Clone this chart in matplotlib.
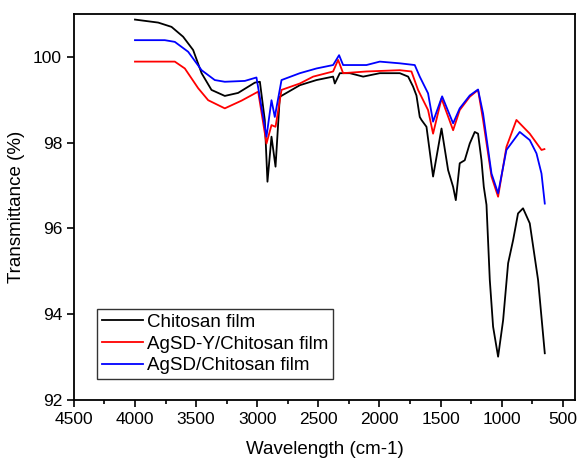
import matplotlib
matplotlib.use("Agg")
from matplotlib import pyplot as plt
from matplotlib.ticker import MultipleLocator

plt.rcParams['font.family'] = ['Liberation Sans', 'DejaVu Sans']

# Chitosan film
chitosan_x = [4000, 3810, 3701, 3606, 3524, 3455, 3374, 3265, 3156, 3019, 2978,
              2938, 2916, 2883, 2850, 2815, 2651, 2515, 2379, 2365, 2324, 2242,
              2133, 1997, 1833, 1765, 1725, 1697, 1670, 1656, 1615, 1561, 1492,
              1438, 1397, 1375, 1343, 1302, 1261, 1220, 1193, 1165, 1146, 1124,
              1097, 1070, 1029, 988, 947, 906, 866, 825, 770, 702, 647]
chitosan_y = [100.87, 100.80, 100.70, 100.47, 100.16, 99.62, 99.23, 99.09, 99.16,
              99.40, 99.42, 98.53, 97.09, 98.14, 97.44, 99.07, 99.34, 99.46, 99.54,
              99.38, 99.62, 99.62, 99.54, 99.62, 99.62, 99.54, 99.31, 99.10, 98.60,
              98.53, 98.37, 97.21, 98.33, 97.36, 96.97, 96.66, 97.52, 97.59, 97.98,
              98.25, 98.21, 97.59, 96.97, 96.55, 94.80, 93.71, 93.01, 93.86, 95.19,
              95.73, 96.35, 96.47, 96.12, 94.80, 93.09]

# AgSD-Y/Chitosan film
agsdy_x = [4000, 3674, 3592, 3483, 3401, 3265, 3128, 2992, 2924, 2883, 2850,
           2801, 2651, 2542, 2379, 2338, 2297, 2106, 1833, 1738, 1684, 1670,
           1602, 1561, 1492, 1397, 1343, 1261, 1193, 1152, 1083, 1029, 961,
           879, 770, 674, 650]
agsdy_y = [99.89, 99.89, 99.73, 99.27, 98.99, 98.80, 98.98, 99.19, 97.98, 98.41,
           98.37, 99.23, 99.38, 99.54, 99.66, 99.93, 99.62, 99.66, 99.69, 99.66,
           99.23, 99.15, 98.76, 98.21, 99.03, 98.29, 98.76, 99.07, 99.23, 98.53,
           97.21, 96.74, 97.90, 98.53, 98.21, 97.83, 97.85]

# AgSD/Chitosan film
agsd_x = [4000, 3756, 3674, 3565, 3455, 3347, 3265, 3101, 3006, 2924, 2883,
          2856, 2801, 2651, 2515, 2379, 2330, 2297, 2106, 1997, 1833, 1711,
          1670, 1602, 1561, 1487, 1397, 1343, 1261, 1193, 1152, 1083, 1029,
          961, 852, 770, 715, 674, 647]
agsd_y = [100.39, 100.39, 100.35, 100.12, 99.69, 99.46, 99.42, 99.44, 99.52,
          98.14, 98.99, 98.60, 99.46, 99.62, 99.73, 99.81, 100.04, 99.81, 99.81,
          99.89, 99.85, 99.81, 99.54, 99.15, 98.49, 99.08, 98.45, 98.80, 99.10,
          99.24, 98.68, 97.28, 96.82, 97.83, 98.25, 98.06, 97.75, 97.28, 96.58]

fig = plt.figure(figsize=(5.77, 4.59), dpi=100)
ax = fig.add_axes([0.128, 0.1285, 0.8685, 0.841])

ax.plot(chitosan_x, chitosan_y, c='black', lw=1.3, label='Chitosan film')
ax.plot(agsdy_x, agsdy_y, c='red', lw=1.3, label='AgSD-Y/Chitosan film')
ax.plot(agsd_x, agsd_y, c='blue', lw=1.3, label='AgSD/Chitosan film')

ax.set_xlim(4500, 400)
ax.set_ylim(92, 101)
ax.xaxis.set_major_locator(MultipleLocator(500))
ax.xaxis.set_minor_locator(MultipleLocator(250))
ax.yaxis.set_major_locator(MultipleLocator(2))
ax.tick_params(axis='both', which='major', direction='out', length=5, width=1.2, labelsize=12.5)
ax.tick_params(axis='x', which='minor', direction='out', length=3, width=1.2)
for s in ax.spines.values():
    s.set_linewidth(1.3)

ax.set_xlabel('Wavelength (cm-1)', fontsize=13.5, labelpad=10)
ax.set_ylabel('Transmittance (%)', fontsize=13.5, labelpad=6)

leg = ax.legend(loc='lower left', bbox_to_anchor=(0.046, 0.054), fontsize=13.5,
                frameon=True, fancybox=False, edgecolor='black', handlelength=2.2,
                borderpad=0.25, labelspacing=0.25, handletextpad=0.2, borderaxespad=0)
leg.get_frame().set_linewidth(1.0)

fig.savefig('out.png', dpi=100)
